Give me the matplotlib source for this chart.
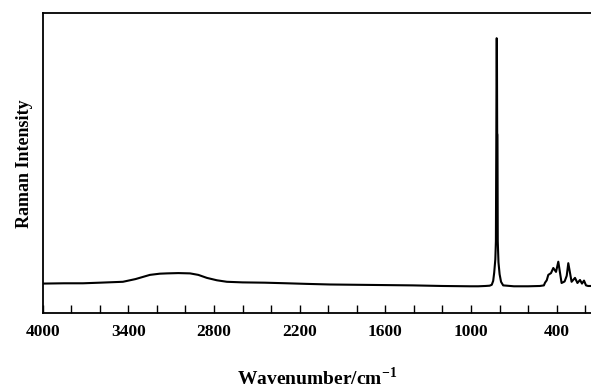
import matplotlib
matplotlib.use("Agg")
import matplotlib.pyplot as plt

# Raman spectrum, read point by point (wavenumber in cm-1, intensity in arb. units)
wavenumber = [
    4000, 3850, 3718, 3600, 3438, 3350, 3249, 3180, 3130, 3050, 2968, 2910,
    2850, 2780, 2710, 2600, 2444, 2290, 2150, 1988, 1800, 1600, 1407, 1200,
    1008, 950, 900, 870, 855, 845, 838, 830, 826, 823, 821, 819, 817, 815,
    813, 808, 800, 790, 775, 700, 600, 518, 490, 482, 470, 459, 440, 424,
    405, 389, 366, 345, 330, 319, 296, 272, 255, 237, 223, 209, 195, 180, 160,
]
intensity = [
    9.9, 10.0, 10.0, 10.2, 10.5, 11.4, 12.8, 13.2, 13.3, 13.4, 13.3, 12.8,
    11.8, 11.0, 10.5, 10.3, 10.2, 10.0, 9.8, 9.6, 9.5, 9.4, 9.3, 9.1,
    9.0, 9.0, 9.1, 9.2, 9.5, 10.8, 13.5, 18.0, 24.0, 60.0, 91.7, 91.5, 60.0, 59.5,
    24.0, 17.0, 13.0, 10.5, 9.3, 9.0, 9.0, 9.1, 9.3, 10.2, 11.0, 12.8, 13.4, 15.1,
    13.8, 17.2, 10.1, 10.6, 12.5, 16.7, 10.5, 11.8, 10.1, 11.1, 9.9, 10.9, 9.3, 9.1, 9.1,
]

major_ticks = [4000, 3400, 2800, 2200, 1600, 1000, 400]
minor_ticks = list(range(4000, 159, -200))

SERIF = ["Liberation Serif", "DejaVu Serif"]

plt.rcParams["mathtext.fontset"] = "custom"
plt.rcParams["mathtext.rm"] = "Liberation Serif:bold"
plt.rcParams["mathtext.bf"] = "Liberation Serif:bold"

fig = plt.figure(figsize=(5.91, 3.92), dpi=100)
ax = fig.add_axes([0.0722, 0.2008, 0.9278, 0.7653])

ax.plot(wavenumber, intensity, color="black", linewidth=1.5,
        solid_joinstyle="round")

ax.set_xlim(4000, 160)
ax.set_ylim(0, 100)

ax.spines["right"].set_visible(False)
for side in ("left", "top", "bottom"):
    ax.spines[side].set_linewidth(1.3)

ax.set_xticks(major_ticks)
ax.set_xticks(minor_ticks, minor=True)
ax.set_xticklabels([str(t) for t in major_ticks],
                   fontfamily=SERIF, fontweight="bold", fontsize=12.5)
ax.tick_params(axis="x", which="both", direction="in", length=6,
               width=1.0, pad=8, top=False)
ax.set_yticks([])

ax.set_xlabel("Wavenumber/cm$^{\\mathbf{-1}}$", fontfamily=SERIF,
              fontweight="bold", fontsize=14, labelpad=19)
ax.set_ylabel("Raman Intensity", fontfamily=SERIF, fontweight="bold",
              fontsize=13, labelpad=7)

fig.savefig("out.png", dpi=100, facecolor="white")
plt.close(fig)
